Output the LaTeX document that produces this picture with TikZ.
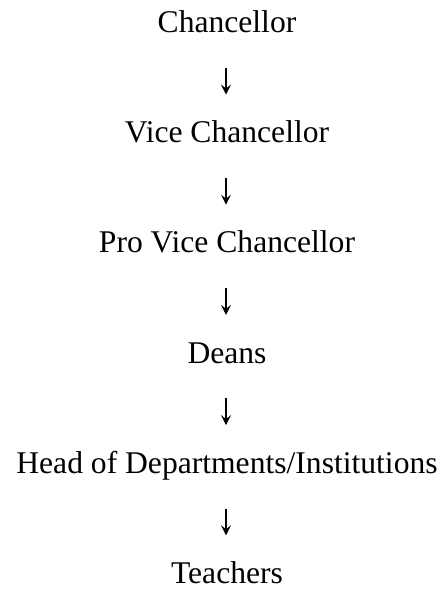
\documentclass[tikz,border=0pt]{standalone}
\usepackage{fontspec}
\setmainfont{Liberation Serif}
\usetikzlibrary{arrows.meta}
\begin{document}
\begin{tikzpicture}[x=1pt,y=-1pt,
  lbl/.style={anchor=base,inner sep=0pt,text height=22pt,text depth=3pt,
    font=\fontsize{31.6}{36}\selectfont},
  arr/.style={line width=1.1pt,-{Stealth[length=10pt,width=10pt,inset=4pt]},
    shorten <=32pt,shorten >=26pt}]
\useasboundingbox (0,0) rectangle (443,589);
\node[lbl] (c) at (227,32.5) {Chancellor};
\node[lbl] (vc) at (227,142.7) {Vice Chancellor};
\node[lbl] (pvc) at (227,252.9) {Pro Vice Chancellor};
\node[lbl] (d) at (227,363.1) {Deans};
\node[lbl] (h) at (227,473.3) {Head of Departments/Institutions};
\node[lbl] (t) at (227,583.5) {Teachers};
\draw[arr] ([xshift=-1pt]c.south) -- ([xshift=-1pt]vc.north);
\draw[arr] ([xshift=-1pt]vc.south) -- ([xshift=-1pt]pvc.north);
\draw[arr] ([xshift=-1pt]pvc.south) -- ([xshift=-1pt]d.north);
\draw[arr] ([xshift=-1pt]d.south) -- ([xshift=-1pt]h.north);
\draw[arr] ([xshift=-1pt]h.south) -- ([xshift=-1pt]t.north);
\end{tikzpicture}
\end{document}
